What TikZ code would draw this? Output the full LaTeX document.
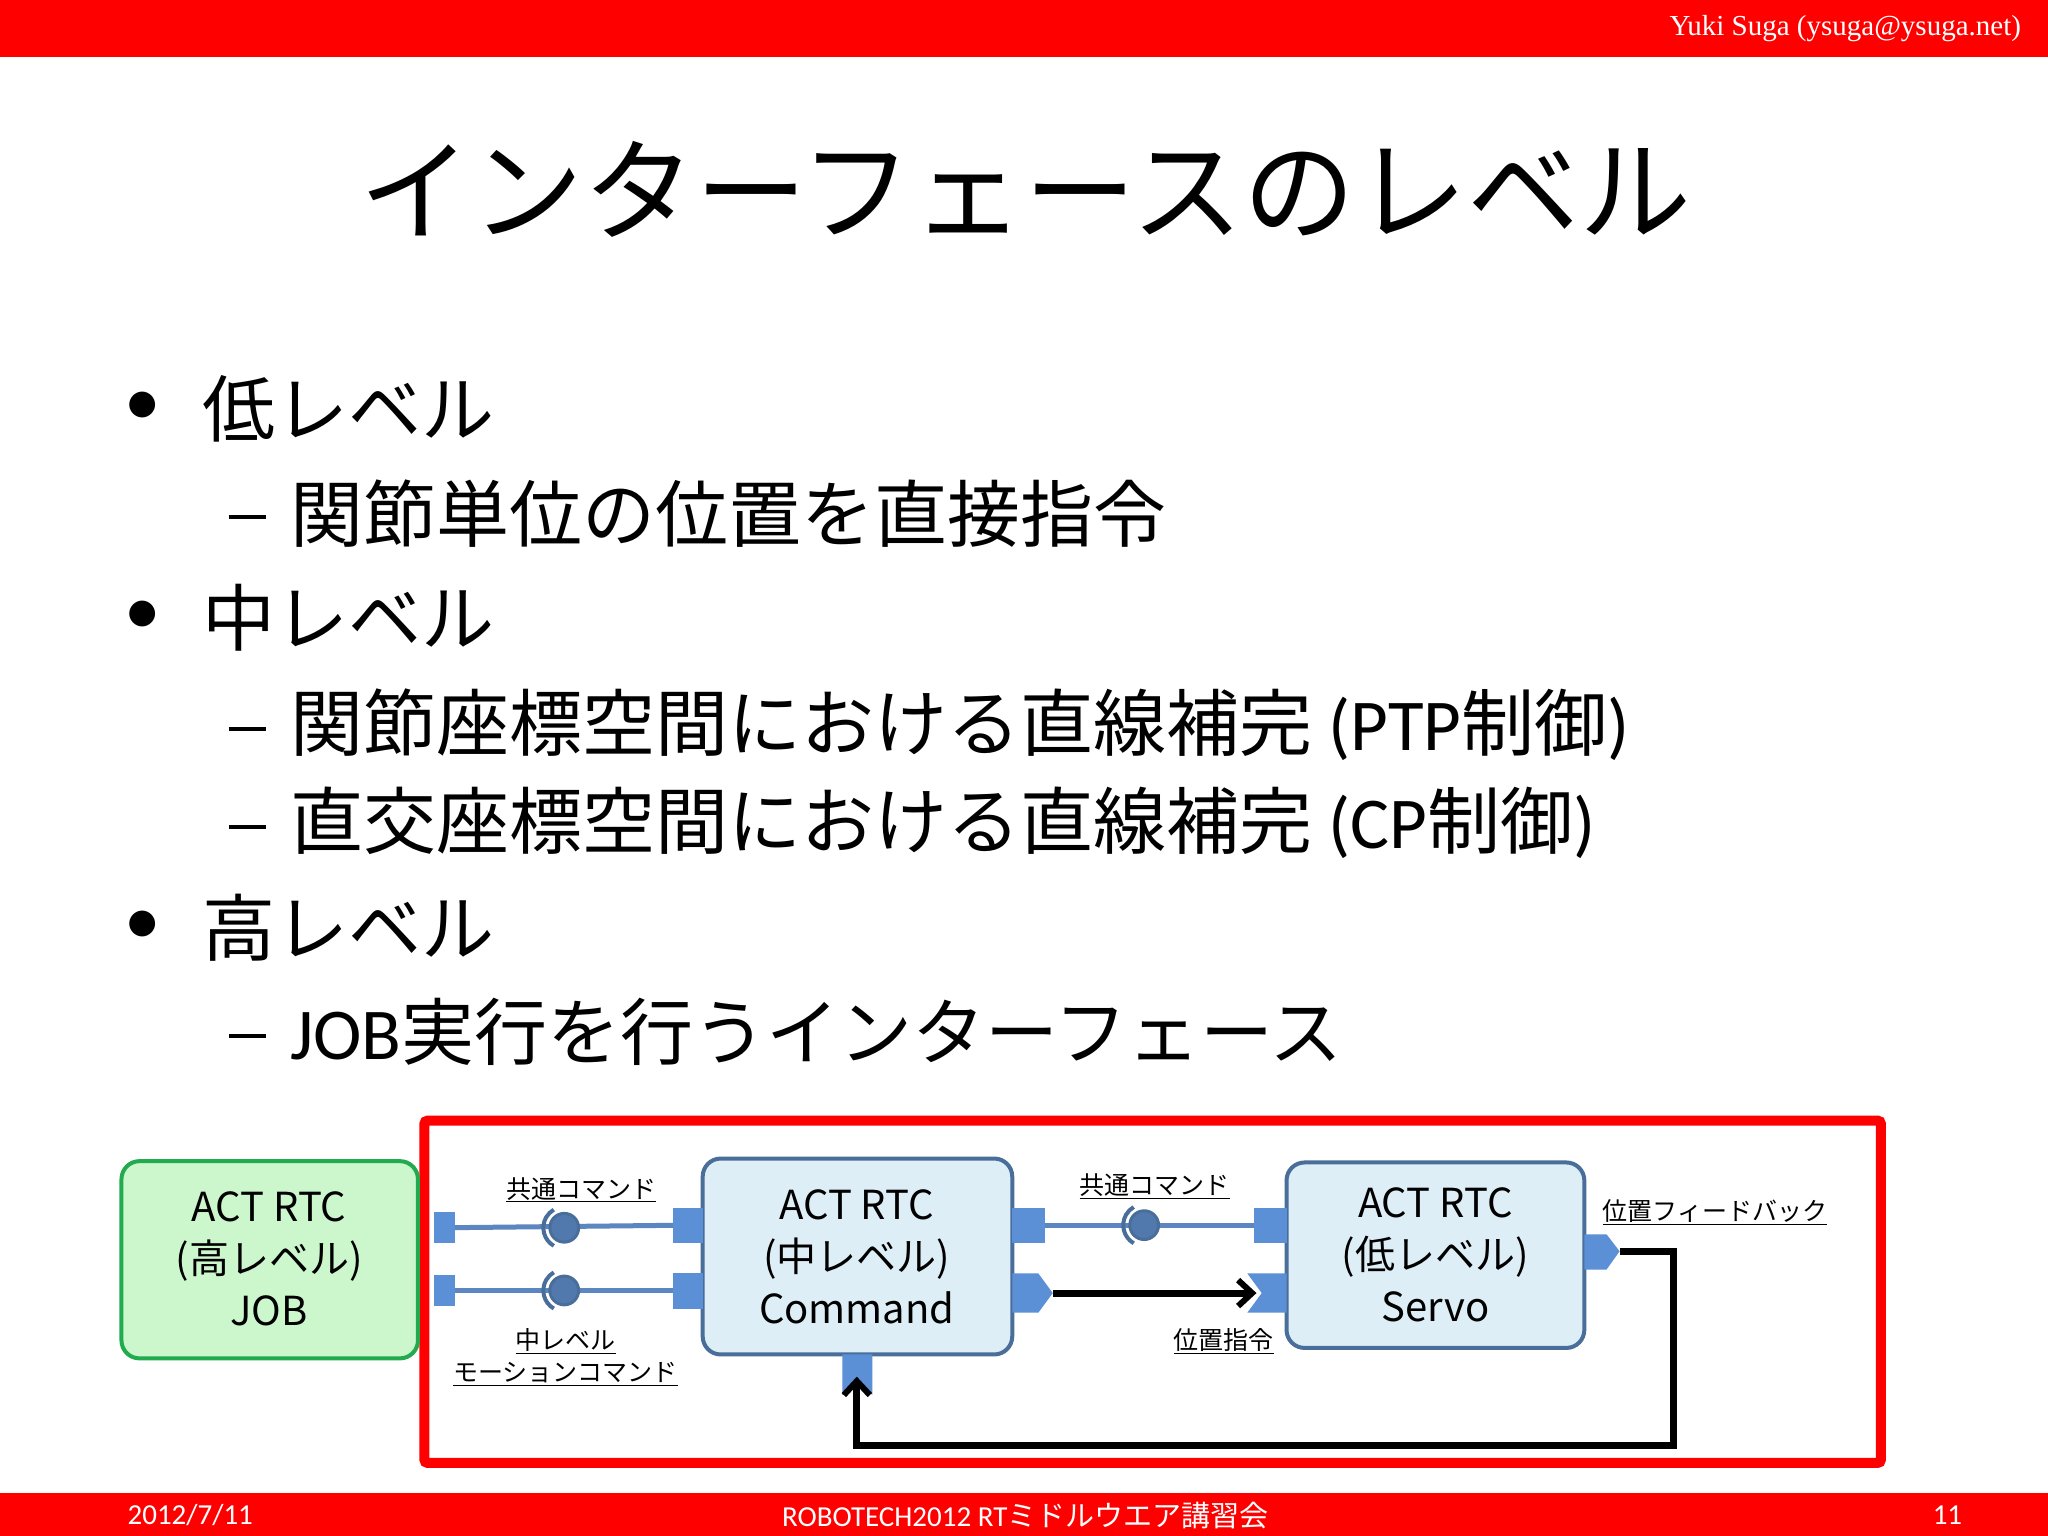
\documentclass[tikz,border=0pt]{standalone}
\usepackage{fontspec}
\setmainfont{Noto Sans CJK JP}
\newfontfamily\lat{Carlito}
\newfontfamily\serif{Liberation Serif}
\usetikzlibrary{arrows.meta}
\definecolor{rbar}{HTML}{FF0000}
\definecolor{gfill}{HTML}{CCF7CC}
\definecolor{gline}{HTML}{22AA4F}
\definecolor{bfill}{HTML}{DDEEF6}
\definecolor{bline}{HTML}{4A6E9A}
\definecolor{port}{HTML}{5B8FD6}
\definecolor{conn}{HTML}{5B86C0}
\tikzset{
  rtc/.style={rounded corners=18pt, line width=4pt, align=center, inner sep=0pt},
  rtctext/.style={font=\fontsize{40}{52}\selectfont, align=center},
  lbl/.style={font=\fontsize{25}{30}\selectfont, inner sep=1pt},
  portbox/.style={fill=port, draw=none},
  cline/.style={conn, line width=5pt},
  fb/.style={line width=7pt, black},
  bul/.style={anchor=west, font=\fontsize{73}{90}\selectfont, inner sep=0pt},
  dashmark/.style={line width=3.5pt, black}
}
\newcommand{\ul}[1]{\underline{#1}}
\begin{document}
\begin{tikzpicture}[x=1.306pt,y=-1.306pt]
\useasboundingbox (0,0) rectangle (1568,1176);
\fill[white] (0,0) rectangle (1568,1176);
% bars
\fill[rbar] (0,0) rectangle (1568,44);
\fill[rbar] (0,1143) rectangle (1568,1176);
\node[anchor=east, text=white, font=\serif\fontsize{29}{32}\selectfont] (hdr) at (1550,22) {Yuki Suga (ysuga@ysuga.net)};
\node[text=white, font=\lat\fontsize{29}{32}\selectfont, anchor=west] (f1) at (95,1160) {2012/7/11};
\node[text=white, font=\fontsize{29}{32}\selectfont] (f2) at (785,1160) {{\lat ROBOTECH2012 RT}ミドルウエア講習会};
\node[text=white, font=\lat\fontsize{29}{32}\selectfont] (f3) at (1491,1160) {11};
% title
\node[font=\fontsize{112}{130}\selectfont] (title) at (785,145) {インターフェースのレベル};
% bullets
\node[bul] (b1d) at (95,313) {\lat •};
\node[bul] (b1) at (155,313) {低レベル};
\node[bul] (s1) at (222,393) {関節単位の位置を直接指令};
\node[bul] (b2d) at (95,473) {\lat •};
\node[bul] (b2) at (155,473) {中レベル};
\node[bul] (s2) at (222,555) {関節座標空間における直線補完 {\lat (PTP}制御{\lat )}};
\node[bul] (s3) at (222,630) {直交座標空間における直線補完 {\lat (CP}制御{\lat )}};
\node[bul] (b3d) at (95,710) {\lat •};
\node[bul] (b3) at (155,710) {高レベル};
\node[bul] (s4) at (222,790) {{\lat JOB}実行を行うインターフェース};
\foreach \yy in {396,558,633,793}{ \draw[dashmark] (175,\yy) -- (204,\yy); }
% diagram
\draw[rbar, line width=10pt, rounded corners=3pt] (325,858) rectangle (1440,1120);
\draw[rtc, draw=gline, fill=gfill] (93,889) rectangle (320,1040);
\node[rtctext] (high) at (206,964) {ACT RTC\\(高レベル)\\JOB};
\draw[rtc, draw=bline, fill=bfill] (538,887) rectangle (775,1037);
\node[rtctext] (mid) at (656,962) {ACT RTC\\(中レベル)\\Command};
\draw[rtc, draw=bline, fill=bfill] (985,890) rectangle (1213,1032);
\node[rtctext] (low) at (1099,961) {ACT RTC\\(低レベル)\\Servo};
% service connectors
\coordinate (hp1) at (340,940); \coordinate (hp2) at (340,988);
\coordinate (mp1) at (527,938); \coordinate (mp2) at (527,988);
\coordinate (mr1) at (787,938); \coordinate (lp1) at (972,938);
\draw[cline] (hp1) -- (mp1);
\draw[cline] (hp2) -- (mp2);
\draw[cline] (mr1) -- (lp1);
\fill[portbox] (332,928) rectangle (348,952);
\fill[portbox] (332,976) rectangle (348,1000);
\fill[portbox] (515,925) rectangle (538,952);
\fill[portbox] (515,975) rectangle (538,1002);
\fill[portbox] (775,925) rectangle (800,952);
\fill[portbox] (960,925) rectangle (985,952);
\foreach \cx/\cy in {432/940, 432/988, 876/938}{
  \draw[bline, line width=4pt] (\cx,\cy) ++(120:16) arc (120:240:16);
  \fill[conn!90!black, draw=bline, line width=3pt] (\cx,\cy) circle (11);
}
% data ports
\fill[portbox] (775,975) -- (795,975) -- (806,990) -- (795,1005) -- (775,1005) -- cycle;
\fill[portbox] (955,975) -- (985,975) -- (985,1005) -- (955,1005) -- (966,990) -- cycle;
\fill[portbox] (1213,945) -- (1230,945) -- (1240,958) -- (1230,972) -- (1213,972) -- cycle;
\fill[portbox] (645,1037) -- (668,1037) -- (668,1068) -- (656,1058) -- (645,1068) -- cycle;
\coordinate (mo) at (806,990); \coordinate (li) at (962,990);
\coordinate (lo) at (1240,958); \coordinate (mi) at (656,1054);
\draw[fb, -{Straight Barb[length=14pt,width=26pt,line width=6pt]}] (mo) -- (li);
\draw[fb, -{Straight Barb[length=14pt,width=26pt,line width=6pt]}] (lo) -- (1281,958) -- (1281,1107) -- (656,1107) -- (mi);
% labels
\node[lbl] (l1) at (445,911) {\ul{共通コマンド}};
\node[lbl] (l2) at (433,1027) {\ul{中レベル}};
\node[lbl] (l3) at (433,1052) {\ul{モーションコマンド}};
\node[lbl] (l4) at (884,908) {\ul{共通コマンド}};
\node[lbl] (l5) at (937,1027) {\ul{位置指令}};
\node[lbl] (l6) at (1313,928) {\ul{位置フィードバック}};
\end{tikzpicture}
\end{document}
